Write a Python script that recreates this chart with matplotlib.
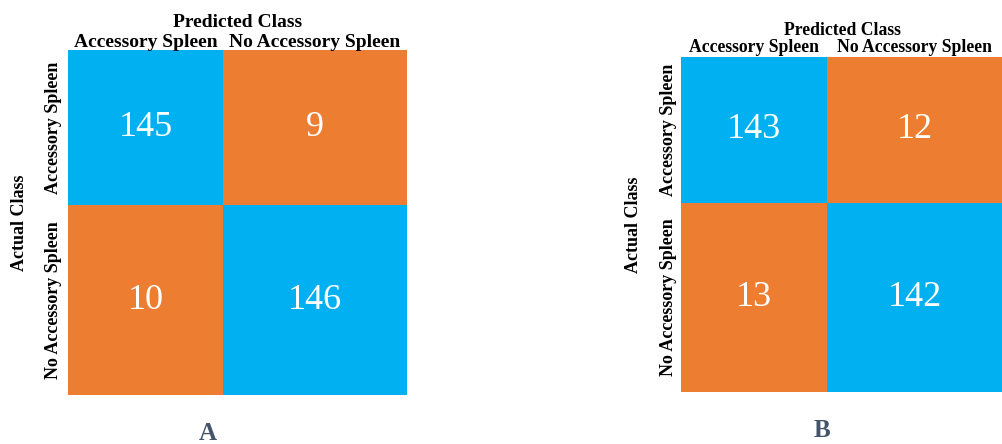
import numpy as np
import matplotlib
matplotlib.use("Agg")
import matplotlib.pyplot as plt
from matplotlib.colors import ListedColormap

# data
classes = ["Accessory Spleen", "No Accessory Spleen"]
counts_a = [[145, 9], [10, 146]]
counts_b = [[143, 12], [13, 142]]
panel_names = ["A", "B"]

W, H = 1002, 444
plt.rcParams["font.family"] = ["Liberation Serif", "DejaVu Serif"]

fig = plt.figure(figsize=(W / 100, H / 100), dpi=100)
cmap = ListedColormap(["#ED7D31", "#00B0F0"])

# layout in pixels
layouts = [
    dict(left=68, top=50, cols=[155, 184], rows=[155, 190], hfs=14, vfs=13,
         xpad=-1, ypad=4.5, xlab=5, ylab=12, letter=(208, 433)),
    dict(left=681, top=57, cols=[146, 176], rows=[146, 189], hfs=12.7, vfs=13,
         xpad=0.5, ypad=3, xlab=3, ylab=13, letter=(822, 430)),
]

for counts, name, lay in zip([counts_a, counts_b], panel_names, layouts):
    cm = np.array(counts)
    wtot = sum(lay["cols"])
    htot = sum(lay["rows"])
    ax = fig.add_axes([lay["left"] / W, 1 - (lay["top"] + htot) / H,
                       wtot / W, htot / H])
    xe = np.concatenate([[0], np.cumsum(lay["cols"])])
    ye = np.concatenate([[0], np.cumsum(lay["rows"])])
    correct = np.eye(len(classes))
    ax.pcolormesh(xe, ye, correct, cmap=cmap, vmin=0, vmax=1)
    ax.set_xlim(0, wtot)
    ax.set_ylim(htot, 0)
    xc = (xe[:-1] + xe[1:]) / 2
    yc = (ye[:-1] + ye[1:]) / 2
    for i in range(len(classes)):
        for j in range(len(classes)):
            ax.text(xc[j], yc[i], str(cm[i, j]), ha="center", va="center",
                    color="white", fontsize=26)
    ax.xaxis.tick_top()
    ax.xaxis.set_label_position("top")
    ax.set_xticks(xc)
    ax.set_xticklabels(classes, fontsize=lay["hfs"], fontweight="bold")
    ax.set_yticks(yc)
    ax.set_yticklabels(classes, fontsize=lay["vfs"], fontweight="bold",
                       rotation=90, va="center")
    ax.tick_params(length=0)
    ax.tick_params(axis="x", pad=lay["xpad"])
    ax.tick_params(axis="y", pad=lay["ypad"])
    ax.set_xlabel("Predicted Class", fontsize=lay["hfs"], fontweight="bold",
                  labelpad=lay["xlab"])
    ax.set_ylabel("Actual Class", fontsize=lay["vfs"], fontweight="bold",
                  labelpad=lay["ylab"])
    for s in ax.spines.values():
        s.set_visible(False)
    lx, ly = lay["letter"]
    fig.text(lx / W, 1 - ly / H, name, ha="center", va="center",
             fontsize=18, fontweight="bold", color="#44546A")

fig.savefig("out.png", dpi=100)
